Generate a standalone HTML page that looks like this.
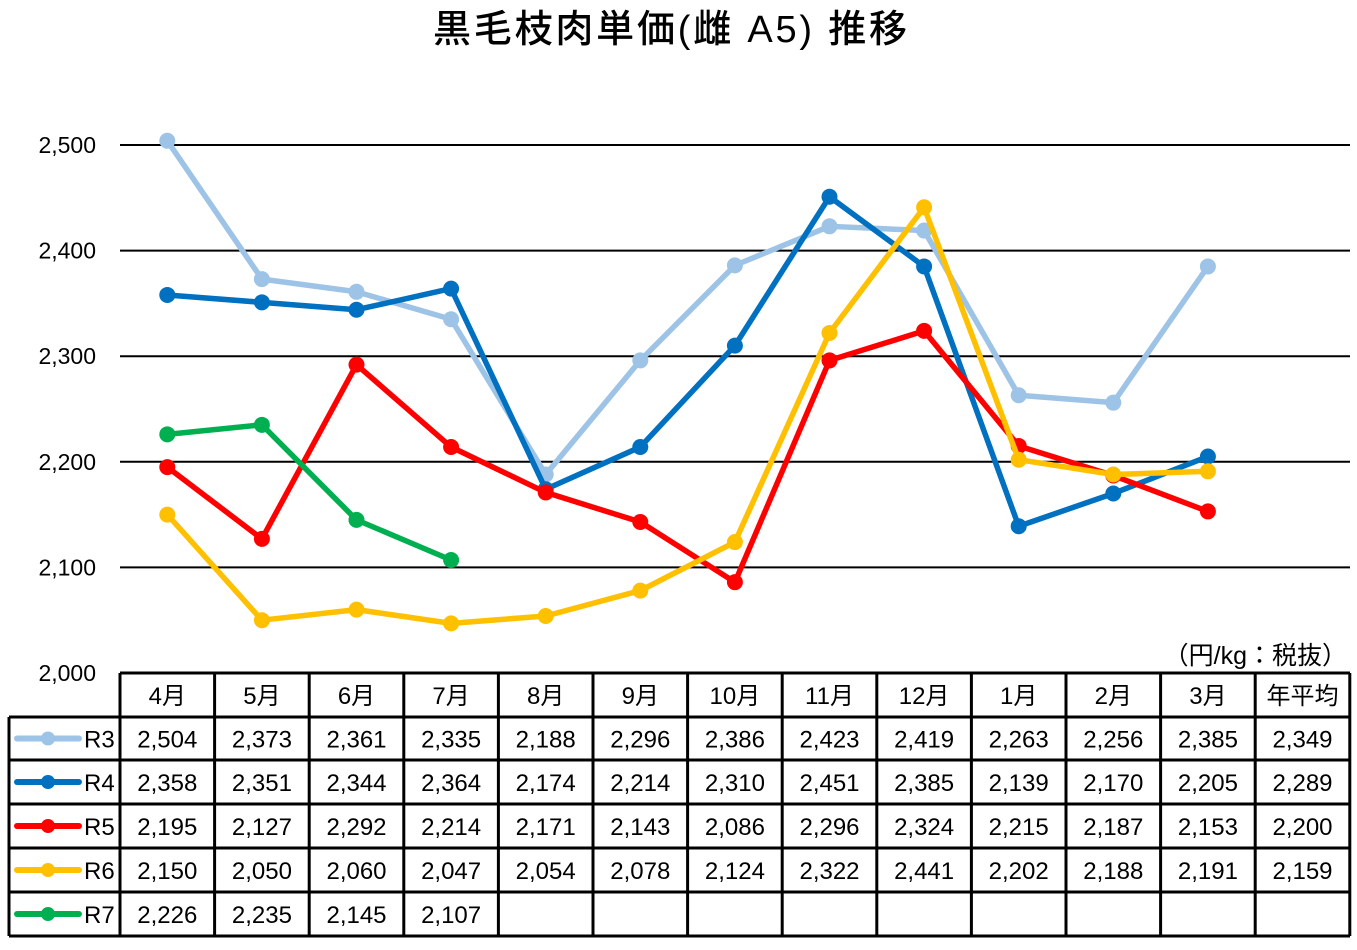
<!DOCTYPE html>
<html><head><meta charset="utf-8"><style>
body{margin:0;background:#fff;}
svg text{font-family:"Liberation Sans","Noto Sans CJK JP",sans-serif;fill:#000;}
</style></head><body>
<svg id="c" width="1357" height="945" xmlns="http://www.w3.org/2000/svg">
<text x="670" y="42" font-size="38" font-weight="500" text-anchor="middle" textLength="474">黒毛枝肉単価(雌 A5) 推移</text>
<text x="1347" y="664" font-size="25" text-anchor="end">（円/kg：税抜）</text>
<g id="grid"></g><g id="tbl"></g><g id="series"></g>
</svg>
<script>
const months=["4月","5月","6月","7月","8月","9月","10月","11月","12月","1月","2月","3月"];
const seriesNames=["R3","R4","R5","R6","R7"];
const colors=["#9dc3e6","#0070c0","#ff0000","#ffc000","#00b050"];
const r3=[2504,2373,2361,2335,2188,2296,2386,2423,2419,2263,2256,2385];
const r4=[2358,2351,2344,2364,2174,2214,2310,2451,2385,2139,2170,2205];
const r5=[2195,2127,2292,2214,2171,2143,2086,2296,2324,2215,2187,2153];
const r6=[2150,2050,2060,2047,2054,2078,2124,2322,2441,2202,2188,2191];
const r7=[2226,2235,2145,2107];
const averages=["2,349","2,289","2,200","2,159",""];
const yTicks=[2000,2100,2200,2300,2400,2500];
const NS="http://www.w3.org/2000/svg";
const x0=120,cw=94.6,left=9;
const y=v=>673-(v-2000)*1.056;
const x=i=>x0+cw*(i+0.5);
function mk(t,a,p){const e=document.createElementNS(NS,t);for(const k in a)e.setAttribute(k,a[k]);p.appendChild(e);return e;}
const grid=document.getElementById('grid');
yTicks.forEach(v=>{
 if(v>2000){const l=mk('line',{x1:x0,x2:1350,y1:y(v),y2:y(v),stroke:'#000','stroke-width':2},grid);
 
 }
 const t=mk('text',{x:96,y:y(v)+8,'font-size':23,'text-anchor':'end'},grid);t.textContent=v.toLocaleString('en-US');
 
 
});
const tbl=document.getElementById('tbl');
const rowY=[673,717,760,804,848,892,936];
const all=[r3,r4,r5,r6,r7];
months.concat(["年平均"]).forEach((m,i)=>{
 const t=mk('text',{x:x(i),y:704,'font-size':24,'text-anchor':'middle'},tbl);t.textContent=m;
 
 
});
all.forEach((d,r)=>{
 const cy=(rowY[r+1]+rowY[r+2])/2;
 const lg=mk('g',{},tbl);
 
 
 mk('line',{x1:17,x2:79,y1:cy,y2:cy,stroke:colors[r],'stroke-width':6,'stroke-linecap':'round'},lg);
 mk('circle',{cx:48,cy:cy,r:7,fill:colors[r]},lg);
 const lt=mk('text',{x:84,y:cy+9,'font-size':24},lg);lt.textContent=seriesNames[r];
 d.forEach((v,i)=>{
  const t=mk('text',{x:x(i),y:cy+9,'font-size':24,'text-anchor':'middle'},tbl);t.textContent=v.toLocaleString('en-US');
  
  
 });
 const a=mk('text',{x:x(12),y:cy+9,'font-size':24,'text-anchor':'middle'},tbl);a.textContent=averages[r];
 
 
});
const L=(a,b,c,d)=>mk('line',{x1:a,y1:b,x2:c,y2:d,stroke:'#000','stroke-width':3},tbl);
L(x0,673,1350,673);
for(let r=1;r<rowY.length;r++)L(left,rowY[r],1350,rowY[r]);
L(left,717,left,936);
for(let i=0;i<=13;i++)L(x0+cw*i,673,x0+cw*i,936);
const sg=document.getElementById('series');
all.forEach((d,r)=>{
 const g=mk('g',{},sg);
 
 
 const pl=mk('polyline',{points:d.map((v,i)=>x(i)+','+y(v)).join(' '),fill:'none',stroke:colors[r],'stroke-width':5.5,'stroke-linejoin':'round'},g);
 
 
 d.forEach((v,i)=>{
  const c=mk('circle',{cx:x(i),cy:y(v),r:8,fill:colors[r]},g);
  
  
 });
});
</script>
</body></html>
